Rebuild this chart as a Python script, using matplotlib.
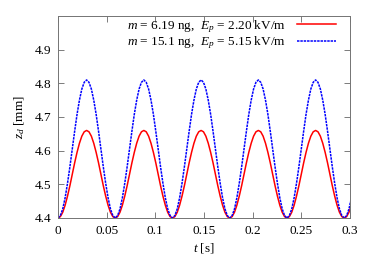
import numpy as np
import matplotlib
matplotlib.use("Agg")
import matplotlib.pyplot as plt

period = 0.0588
phase = np.linspace(0, 1, 25)
z_red_cycle = [4.400, 4.404, 4.417, 4.438, 4.465, 4.496, 4.530, 4.564, 4.595, 4.622, 4.643, 4.656, 4.660,
               4.656, 4.643, 4.622, 4.595, 4.564, 4.530, 4.496, 4.465, 4.438, 4.417, 4.404, 4.400]
z_blue_cycle = [4.400, 4.407, 4.427, 4.460, 4.503, 4.552, 4.605, 4.658, 4.708, 4.750, 4.783, 4.803, 4.810,
                4.803, 4.783, 4.750, 4.708, 4.658, 4.605, 4.552, 4.503, 4.460, 4.427, 4.407, 4.400]
n_cycles = 6

labels = [r"$m$ = 6.19 ng,  $E_p$ = 2.20 kV/m",
          r"$m$ = 15.1 ng,  $E_p$ = 5.15 kV/m"]
xticks = [0, 0.05, 0.1, 0.15, 0.2, 0.25, 0.3]
xticklabels = ["0", "0.05", "0.1", "0.15", "0.2", "0.25", "0.3"]
yticks = [4.4, 4.5, 4.6, 4.7, 4.8, 4.9]

plt.rcParams["font.family"] = "Liberation Serif"
plt.rcParams["mathtext.fontset"] = "custom"
plt.rcParams["mathtext.rm"] = "Liberation Serif"
plt.rcParams["mathtext.it"] = "Liberation Serif:italic"
plt.rcParams["font.size"] = 9.5

t = np.concatenate([(k + phase[:-1]) * period for k in range(n_cycles)])
z_red = np.tile(z_red_cycle[:-1], n_cycles)
z_blue = np.tile(z_blue_cycle[:-1], n_cycles)

fig = plt.figure(figsize=(3.74, 2.62), dpi=100)
ax = fig.add_axes([0.155, 0.168, 0.781, 0.771])

ax.plot(t, z_red, color="#ff0000", lw=1.1, label=labels[0])
ax.plot(t, z_blue, color="#0000ff", lw=1.1, ls=(0, (1.6, 0.6)), label=labels[1])

ax.set_xlim(0, 0.3)
ax.set_ylim(4.4, 5.0)
ax.set_xticks(xticks)
ax.set_xticklabels(xticklabels)
ax.set_yticks(yticks)
ax.tick_params(direction="in", top=True, right=True, length=4, width=0.6,
               color="0.4", pad=5)
for s in ax.spines.values():
    s.set_color("0.45")
    s.set_linewidth(0.7)

ax.set_xlabel(r"$t$ [s]", labelpad=3)
ax.set_ylabel(r"$z_d$ [mm]", labelpad=5)

ax.legend(loc="upper right", frameon=False, markerfirst=False,
          handlelength=3.0, handletextpad=0.8, labelspacing=0.0,
          borderaxespad=0.0, borderpad=0.15, bbox_to_anchor=(0.96, 1.0))

fig.savefig("out.png", dpi=100)
